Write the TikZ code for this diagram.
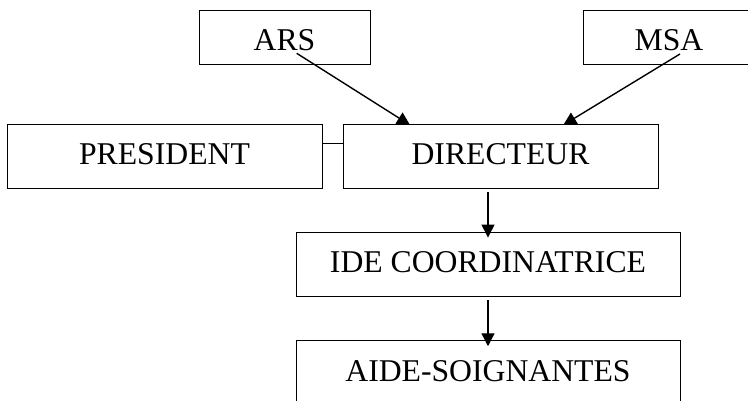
\documentclass[tikz,border=0pt]{standalone}
\usepackage{fontspec}
\setmainfont{Liberation Serif}
\usetikzlibrary{arrows.meta}
\begin{document}
\begin{tikzpicture}[x=1pt,y=-1pt]

      \useasboundingbox (0,0) rectangle (748,401);
      \clip (0,0) rectangle (748,401);

      \begin{scope}[every node/.style={draw,rectangle,line width=0.9pt,inner sep=0pt,
          font=\fontsize{31.7}{38}\selectfont,text height=40.5pt,text depth=23.5pt}]
        \node[minimum width=171pt,text height=41pt,text depth=13pt] (ars) at (284.5,37)  {ARS};
        \node[minimum width=171pt,text height=41pt,text depth=13pt] (msa) at (669,37)    {MSA};
        \node[minimum width=315pt] (pres) at (164.5,156) {PRESIDENT};
        \node[minimum width=315pt] (dir)  at (500.5,156) {DIRECTEUR};
        \node[minimum width=384pt] (ide)  at (488,264)   {IDE COORDINATRICE};
        \node[minimum width=384pt] (aide) at (488,372.7) {AIDE-SOIGNANTES};
      \end{scope}

      \coordinate (arsfoot) at (296.7,53.3);
      \coordinate (msafoot) at (680,54);
      \coordinate (dirl)    at (410,125);
      \coordinate (dirr)    at (563.3,125);
      \coordinate (dirfoot) at (488,192.3);
      \coordinate (idefoot) at (488,300);

      \begin{scope}[every edge/.style={draw,line width=1.4pt,-{Triangle[length=13pt,width=13pt]}}]
        \path (arsfoot) edge (dirl);
        \path (msafoot) edge (dirr);
        \path (dirfoot) edge ([yshift=-6pt]ide.north);
        \path (idefoot) edge ([yshift=-6pt]aide.north);
      \end{scope}

      \draw[line width=1.2pt] ([yshift=12.7pt]pres.east) -- ([yshift=12.7pt]dir.west);

    \end{tikzpicture}
\end{document}
